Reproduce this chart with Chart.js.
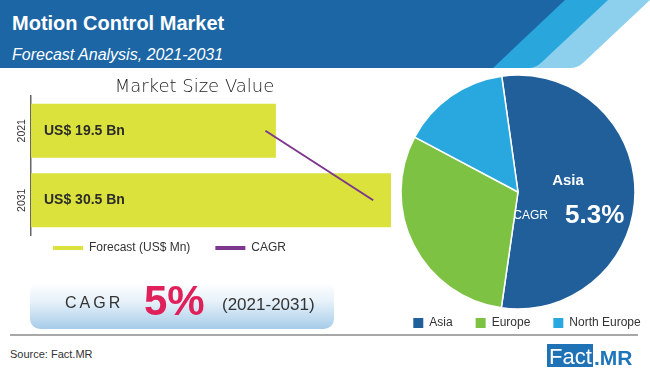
<!DOCTYPE html>
<html>
<head>
<meta charset="utf-8">
<title>Motion Control Market</title>
<script src="https://cdn.jsdelivr.net/npm/chart.js@4.4.1/dist/chart.umd.min.js"></script>
<style>
  html, body { margin: 0; padding: 0; }
  body { width: 650px; height: 370px; position: relative; overflow: hidden; background: #fff;
         font-family: 'Liberation Sans', Arial, sans-serif; }
  .txt { position: absolute; line-height: 1; white-space: nowrap; }
  #banner { position: absolute; left: 0; top: 0; }
  #title { left: 12px; top: 13px; font-size: 20px; font-weight: bold; color: #fff; }
  #subtitle { left: 12px; top: 46.5px; font-size: 16px; font-style: italic; color: #fff; }
  #barBox { position: absolute; left: 0; top: 70px; }
  #pieBox { position: absolute; left: 381px; top: 62px; }
  #cagr { position: absolute; left: 30px; top: 282px; width: 304px; height: 47px; border-radius: 10px;
          background: linear-gradient(#ffffff 0%, #e8f2fa 40%, #a6cce9 100%); }
  #cagr .lbl { left: 35px; top: 12.5px; font-size: 16px; letter-spacing: 3px; color: #333; }
  #cagr .big { left: 114px; top: -1.6px; font-size: 42px; font-weight: bold; color: #e0205b; }
  #cagr .yrs { left: 192px; top: 13.6px; font-size: 17px; color: #333; }
  #rule { position: absolute; left: 10px; top: 334px; width: 628px; height: 2px; background: #a8a8a8; }
  #source { left: 10px; top: 348.7px; font-size: 11px; color: #333; }
  #logoBox { position: absolute; left: 547px; top: 344px; width: 46px; height: 23px; background: #1f72b5; }
  #logoFact { left: 549px; top: 346.4px; font-size: 22px; color: #fff; }
  #logoMR { left: 594px; top: 347.2px; font-size: 21px; font-weight: bold; color: #1f75b9; }
</style>
</head>
<body>
<svg id="banner" width="650" height="70">
  <path d="M0 0 H650 L584 62 Q578 68 570 68 H0 Z" fill="#8dd0ee"/>
  <path d="M0 0 H608 L542 62 Q536 68 528 68 H0 Z" fill="#29a7dc"/>
  <path d="M0 0 H565 L493 68 H0 Z" fill="#1c66a6"/>
</svg>
<div id="title" class="txt">Motion Control Market</div>
<div id="subtitle" class="txt">Forecast Analysis, 2021-2031</div>

<div id="barBox"><canvas id="barChart" width="400" height="212"></canvas></div>
<div id="pieBox"><canvas id="pieChart" width="274" height="280"></canvas></div>

<div id="cagr">
  <span class="txt lbl">CAGR</span>
  <span class="txt big">5%</span>
  <span class="txt yrs">(2021-2031)</span>
</div>

<div id="rule"></div>
<div id="source" class="txt">Source: Fact.MR</div>
<div id="logoBox"></div>
<div id="logoFact" class="txt">Fact</div>
<div id="logoMR" class="txt">.MR</div>

<script>
const years = ['2021', '2031'];
const marketSize = [19.5, 30.5];   // US$ Bn
const cagrTrend = [18.5, 28.8];    // CAGR line

const regions = ['Asia', 'Europe', 'North Europe'];
const regionShare = [54.5, 30.5, 15];
const asiaCagr = '5.3%';

const FONT = '"Liberation Sans", Arial, sans-serif';

// legend padding sets both the item gap and the gap to the chart area,
// so move the legend / title boxes after layout instead
const boxNudge = {
  id: 'boxNudge',
  afterLayout(chart, args, opts) {
    const move = (box, o) => {
      if (!box || !o) return;
      const dx = o.dx || 0, dy = o.dy || 0;
      box.left += dx; box.right += dx;
      box.top += dy; box.bottom += dy;
    };
    move(chart.legend, opts.legend);
    move(chart.titleBlock, opts.title);
  }
};

const barLabels = {
  id: 'barLabels',
  afterDatasetsDraw(chart) {
    const { ctx, chartArea } = chart;
    const bars = chart.getDatasetMeta(0).data;
    ctx.save();
    ctx.fillStyle = '#2b2b2b';
    ctx.font = 'bold 14px ' + FONT;
    ctx.textBaseline = 'middle';
    bars.forEach((bar, i) => {
      ctx.fillText('US$ ' + marketSize[i].toFixed(1) + ' Bn', chartArea.left + 13, bar.y);
    });
    // rotated year labels left of the axis
    ctx.font = '10.5px ' + FONT;
    ctx.fillStyle = '#333';
    ctx.textAlign = 'center';
    years.forEach((yr, i) => {
      ctx.save();
      ctx.translate(chartArea.left - 9, chart.scales.y.getPixelForValue(i));
      ctx.rotate(-Math.PI / 2);
      ctx.fillText(yr, 0, 0);
      ctx.restore();
    });
    ctx.restore();
  }
};

const pieCenterText = {
  id: 'pieCenterText',
  afterDatasetsDraw(chart) {
    const arc = chart.getDatasetMeta(0).data[0];
    const { ctx } = chart;
    ctx.save();
    ctx.fillStyle = '#fff';
    ctx.textBaseline = 'alphabetic';
    ctx.textAlign = 'center';
    ctx.font = 'bold 15px ' + FONT;
    ctx.fillText(regions[0], arc.x + 50, arc.y - 7);
    ctx.textAlign = 'right';
    ctx.font = '12px ' + FONT;
    ctx.fillText('CAGR', arc.x + 30, arc.y + 27);
    ctx.textAlign = 'left';
    ctx.font = 'bold 26px ' + FONT;
    ctx.fillText(asiaCagr, arc.x + 47, arc.y + 31);
    ctx.restore();
  }
};

new Chart(document.getElementById('barChart'), {
  type: 'bar',
  data: {
    labels: years,
    datasets: [
      {
        label: 'Forecast (US$ Mn)',
        data: marketSize,
        backgroundColor: '#dbe23b',
        base: -3.9,
        barPercentage: 0.78,
        categoryPercentage: 1,
        order: 1
      },
      {
        type: 'line',
        label: 'CAGR',
        data: cagrTrend,
        borderColor: '#7d378c',
        backgroundColor: '#7d378c',
        borderWidth: 2,
        pointRadius: 0,
        order: 0
      }
    ]
  },
  options: {
    indexAxis: 'y',
    responsive: false,
    animation: false,
    layout: { padding: { left: 28, right: 9, top: 0, bottom: 0 } },
    scales: {
      x: { display: false, min: -3.9, max: 30.5 },
      y: {
        ticks: { display: false },
        grid: { display: false, drawTicks: false },
        border: { color: '#666', width: 1.5 },
        afterFit(s) { s.width = 3; }
      }
    },
    plugins: {
      title: {
        display: true,
        text: 'Market Size Value',
        color: '#222',
        font: { family: '"DejaVu Sans", sans-serif', size: 18, weight: 300, lineHeight: 1 },
        padding: { top: 8, bottom: 0 }
      },
      legend: {
        position: 'bottom',
        align: 'start',
        labels: {
          boxWidth: 30,
          boxHeight: 4,
          padding: 25,
          color: '#333',
          font: { family: FONT, size: 12 },
          sort: (a, b) => a.datasetIndex - b.datasetIndex,
          generateLabels: chart =>
            Chart.defaults.plugins.legend.labels.generateLabels(chart).map(l => ({ ...l, lineWidth: 0 }))
        }
      },
      tooltip: { enabled: false },
      boxNudge: { legend: { dy: -18 }, title: { dx: -15 } }
    }
  },
  plugins: [boxNudge, barLabels]
});

new Chart(document.getElementById('pieChart'), {
  type: 'pie',
  data: {
    labels: regions,
    datasets: [{
      data: regionShare,
      backgroundColor: ['#215f9a', '#7dc243', '#29a8e0'],
      borderColor: '#fff',
      borderWidth: 1.5,
      clip: false
    }]
  },
  options: {
    responsive: false,
    animation: false,
    radius: 117,
    rotation: -8,
    layout: { padding: { top: 28, bottom: 3, left: 0, right: 0 } },
    plugins: {
      legend: {
        position: 'bottom',
        labels: {
          boxWidth: 10,
          boxHeight: 10,
          padding: 23,
          color: '#333',
          font: { family: FONT, size: 12 },
          generateLabels: chart =>
            Chart.overrides.pie.plugins.legend.labels.generateLabels(chart).map(l => ({ ...l, lineWidth: 0 }))
        }
      },
      tooltip: { enabled: false },
      boxNudge: { legend: { dx: 9 } }
    }
  },
  plugins: [boxNudge, pieCenterText]
});
</script>
</body>
</html>
